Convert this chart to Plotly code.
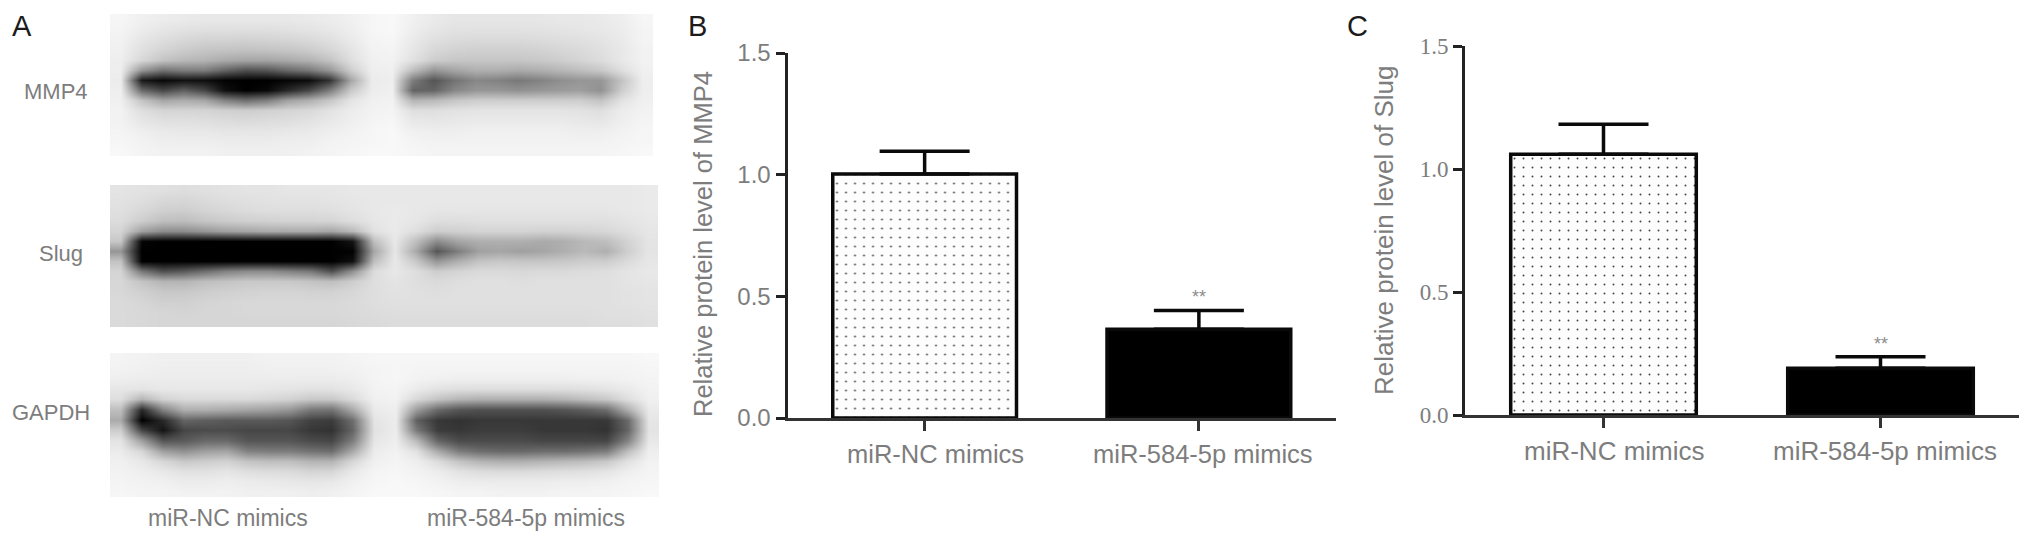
import plotly.graph_objects as go

W, H = 2031, 543

groups = ["miR-NC mimics", "miR-584-5p mimics"]
mmp4_values = [1.003, 0.365]
mmp4_errors = [0.093, 0.077]
slug_values = [1.06, 0.19]
slug_errors = [0.122, 0.047]
y_ticks = [0.0, 0.5, 1.0, 1.5]
y_tick_labels = ["0.0", "0.5", "1.0", "1.5"]
sig_marks = ["", "**"]
blot_names = ["MMP4", "Slug", "GAPDH"]

# Grey levels of the three blot strips on a coarse grid
blot_mmp4 = [
    [246,240,236,234,232,232,232,232,232,234,236,240,246,248,240,234,230,230,230,230,230,232,232,234,238,246],
    [244,236,230,226,224,224,224,224,226,228,232,238,246,248,238,230,226,226,226,226,226,228,230,232,236,244],
    [242,230,222,216,212,212,210,212,214,218,224,234,244,246,234,224,220,218,218,218,220,222,224,228,234,244],
    [240,224,212,204,198,196,194,196,198,204,214,228,242,244,230,216,210,208,208,208,210,214,218,224,232,242],
    [238,215,195,185,180,170,165,165,170,178,195,222,240,242,225,205,198,198,198,198,200,205,212,220,232,242],
    [238,150,115,125,125,100,80,85,105,120,150,205,238,240,190,150,165,175,175,170,175,182,190,200,222,240],
    [236,25,8,18,15,3,0,0,6,12,50,165,235,238,125,85,115,135,130,120,130,142,150,150,195,238],
    [238,105,70,95,70,15,0,8,40,70,125,200,236,240,100,100,135,150,150,145,150,155,158,145,205,238],
    [240,195,165,172,165,130,110,125,160,175,198,228,240,242,180,185,198,205,205,205,205,205,205,195,226,240],
    [242,222,212,212,212,208,205,208,212,216,226,236,242,244,222,222,226,228,228,228,228,228,226,222,236,242],
    [242,230,224,224,222,220,218,220,222,226,232,238,244,246,232,230,232,234,234,234,234,234,232,230,238,244],
    [244,238,234,232,232,230,230,230,232,234,238,242,246,248,240,238,238,240,240,240,240,240,238,238,242,246],
    [246,242,238,238,238,236,236,236,238,238,242,244,246,248,244,242,242,242,242,242,242,242,242,242,244,246],
    [248,244,242,242,242,240,240,240,240,242,244,246,248,248,246,244,244,244,244,244,244,244,244,244,246,248],
]
blot_slug = [
    [228,226,224,222,224,226,228,228,230,230,230,232,232,232,232,232,232,232,232,232,232,232,232,232,232,234],
    [226,222,216,214,218,222,224,226,226,226,228,230,232,232,232,232,232,232,232,232,232,232,232,232,232,234],
    [224,216,208,206,212,216,220,222,222,222,224,228,232,234,232,230,230,230,230,230,230,230,230,230,232,234],
    [220,205,192,190,198,204,208,210,212,212,214,222,230,234,230,222,222,224,224,224,224,224,224,224,228,232],
    [212,160,140,140,150,160,165,170,170,170,165,185,225,234,222,205,208,212,212,212,210,210,212,215,222,230],
    [200,5,0,0,0,0,0,0,0,0,0,20,190,232,190,140,165,175,175,175,170,175,185,190,210,228],
    [150,0,0,0,0,0,0,0,0,0,0,2,165,230,170,85,125,160,165,160,165,175,185,175,205,228],
    [195,0,0,0,0,0,0,0,0,0,0,15,190,232,200,150,175,195,200,198,198,200,205,205,218,230],
    [212,120,80,90,110,130,140,140,130,120,80,145,220,232,222,205,212,218,218,216,218,218,220,222,228,232],
    [215,195,180,180,190,195,200,200,200,195,190,205,222,228,222,218,222,224,224,222,224,224,224,224,228,230],
    [215,208,200,200,205,208,210,212,212,210,210,215,222,226,224,222,224,224,224,224,224,224,224,224,226,228],
    [218,214,208,208,212,214,216,216,216,216,216,218,222,224,224,224,224,224,224,224,224,224,224,224,226,228],
    [218,216,214,212,214,214,216,216,216,216,216,218,220,222,222,222,222,222,222,222,222,222,222,224,224,226],
    [218,216,214,214,214,214,214,214,214,214,214,216,218,220,220,220,220,220,220,220,220,220,220,222,222,224],
]
blot_gapdh = [
    [244,242,240,240,240,240,240,242,242,242,242,244,246,246,246,246,246,246,246,246,246,246,246,246,246,248],
    [242,240,238,238,238,238,238,240,240,240,240,242,244,246,244,244,244,244,244,244,244,244,244,244,244,246],
    [238,236,236,236,236,236,236,236,236,236,236,238,244,246,242,240,238,238,238,238,238,238,240,240,242,244],
    [230,228,232,232,232,232,232,230,228,226,226,232,242,244,234,226,222,222,222,222,222,222,224,228,234,242],
    [222,180,210,218,218,218,218,214,210,200,200,218,240,242,215,195,180,175,175,175,175,180,190,200,222,240],
    [190,40,130,175,175,170,165,160,150,120,115,170,234,238,155,105,85,80,80,80,80,85,95,110,175,234],
    [170,0,40,100,95,90,90,90,85,65,60,110,228,236,95,55,50,55,55,55,55,55,55,55,105,230],
    [205,70,20,70,75,75,70,70,70,55,50,100,226,236,120,60,55,60,60,60,55,55,55,50,100,228],
    [228,160,85,90,105,105,85,85,85,75,70,125,230,238,185,100,75,75,75,75,70,70,70,70,130,232],
    [235,215,160,145,160,165,130,125,125,115,110,170,236,242,225,170,125,110,105,105,110,110,115,125,190,238],
    [240,232,215,200,205,210,195,190,190,180,180,215,240,244,238,220,195,180,175,175,180,185,190,200,225,242],
    [242,238,232,225,225,228,222,220,218,212,214,232,244,246,242,236,226,220,218,218,220,222,224,228,238,244],
    [244,242,240,236,236,238,236,234,232,230,232,240,246,248,246,242,238,236,236,236,236,238,238,240,244,246],
    [246,244,244,242,242,242,240,240,240,238,240,244,248,248,248,246,244,244,242,242,242,244,244,244,246,248],
]

GREY = "#7d7d7d"
DARK = "#1c1c1c"
SANS = "Liberation Sans, Arial, sans-serif"
SERIF = "Liberation Serif, Times New Roman, serif"

def px_x(a, b):
    return [a / W, b / W]

def px_y(top, bottom):
    return [1 - bottom / H, 1 - top / H]

fig = go.Figure()

# Panel A: blots
blots = [blot_mmp4, blot_slug, blot_gapdh]
blot_boxes = [(110, 653, 14, 156), (110, 658, 185, 327), (110, 659, 353, 497)]
for i, (z, box) in enumerate(zip(blots, blot_boxes)):
    ax = "" if i == 0 else str(i + 1)
    fig.add_trace(go.Heatmap(
        z=z, xaxis="x" + ax, yaxis="y" + ax, zmin=0, zmax=255, zsmooth="best",
        colorscale=[[0, "#000000"], [1, "#ffffff"]], showscale=False, hoverinfo="skip",
    ))
    fig.update_layout({
        "xaxis" + ax: dict(domain=px_x(box[0], box[1]), visible=False, anchor="y" + ax,
                           range=[-0.5, len(z[0]) - 0.5]),
        "yaxis" + ax: dict(domain=px_y(box[2], box[3]), visible=False, anchor="x" + ax,
                           range=[len(z) - 0.5, -0.5]),
    })

def add_bars(values, errors, xa, ya):
    fig.add_trace(go.Bar(
        x=groups, y=values, xaxis=xa, yaxis=ya, width=0.67, showlegend=False,
        marker=dict(
            color=["#fdfdfd", "#000000"],
            line=dict(color="#0a0a0a", width=3.5),
            pattern=dict(shape=[".", ""], size=9, solidity=0.035,
                         fgcolor="#8a8a8a", fgopacity=1, fillmode="overlay"),
        ),
        error_y=dict(type="data", symmetric=False, array=errors, arrayminus=[0, 0],
                     color="#0a0a0a", thickness=3.5, width=45),
    ))

add_bars(mmp4_values, mmp4_errors, "x4", "y4")
add_bars(slug_values, slug_errors, "x5", "y5")

def axes(name_x, name_y, dx, dy, font_family, font_size):
    fig.update_layout({
        name_x: dict(domain=dx, anchor=name_y.replace("axis", ""), type="category",
                     categoryorder="array", categoryarray=groups, range=[-0.5, 1.5],
                     showline=True, linecolor="#333333", linewidth=2.5, showgrid=False,
                     ticks="outside", ticklen=10, tickwidth=2.5, tickcolor="#333333",
                     showticklabels=False, zeroline=False),
        name_y: dict(domain=dy, anchor=name_x.replace("axis", ""), range=[0, 1.5],
                     tickvals=y_ticks, ticktext=y_tick_labels,
                     showline=True, linecolor="#222222", linewidth=3, showgrid=False,
                     ticks="outside", ticklen=9, tickwidth=3, tickcolor="#222222",
                     zeroline=False,
                     tickfont=dict(family=font_family, size=font_size, color=GREY)),
    })

axes("xaxis4", "yaxis4", px_x(787.5, 1336), px_y(53, 418), SANS, 24)
axes("xaxis5", "yaxis5", px_x(1465, 2019), px_y(46, 415), SERIF, 23)

anns = []

def label(text, x, y, size, color=GREY, family=SANS, angle=0):
    anns.append(dict(text=text, x=x / W, y=1 - y / H, xref="paper", yref="paper",
                     showarrow=False, xanchor="center", yanchor="middle", textangle=angle,
                     font=dict(family=family, size=size, color=color)))

label("A", 22, 26, 29, DARK)
label("B", 697, 26, 29, DARK)
label("C", 1357, 26, 29, DARK)

label(blot_names[0], 56, 91, 22)
label(blot_names[1], 61, 253, 22)
label(blot_names[2], 51, 413, 22)
label(groups[0], 228, 518, 23)
label(groups[1], 526, 518, 23)

label("Relative protein level of MMP4", 703, 244, 25.5, angle=-90)
label("Relative protein level of Slug", 1384, 230, 26, angle=-90)

def x_labels(xa, ya, shifts, y_shift, size):
    for g, s, m, v, e in zip(groups, shifts, sig_marks, *y_shift):
        anns.append(dict(text=g, x=g, xref=xa, y=0, yref=ya, showarrow=False, xshift=s,
                         yshift=-36, font=dict(family=SANS, size=size, color=GREY)))
        if m:
            anns.append(dict(text=m, x=g, xref=xa, y=v + e, yref=ya, showarrow=False,
                             yshift=13, font=dict(family=SANS, size=18, color="#8c8c8c")))

x_labels("x4", "y4", [11, 4], (mmp4_values, mmp4_errors), 25.5)
x_labels("x5", "y5", [11, 4], (slug_values, slug_errors), 26)

fig.update_layout(
    width=W, height=H, margin=dict(l=0, r=0, t=0, b=0, autoexpand=False),
    paper_bgcolor="#ffffff", plot_bgcolor="#ffffff",
    showlegend=False, annotations=anns,
)

fig.write_html("out.html", config={"displayModeBar": False},
               post_script="document.body.style.margin='0';document.documentElement.style.overflow='hidden';")
